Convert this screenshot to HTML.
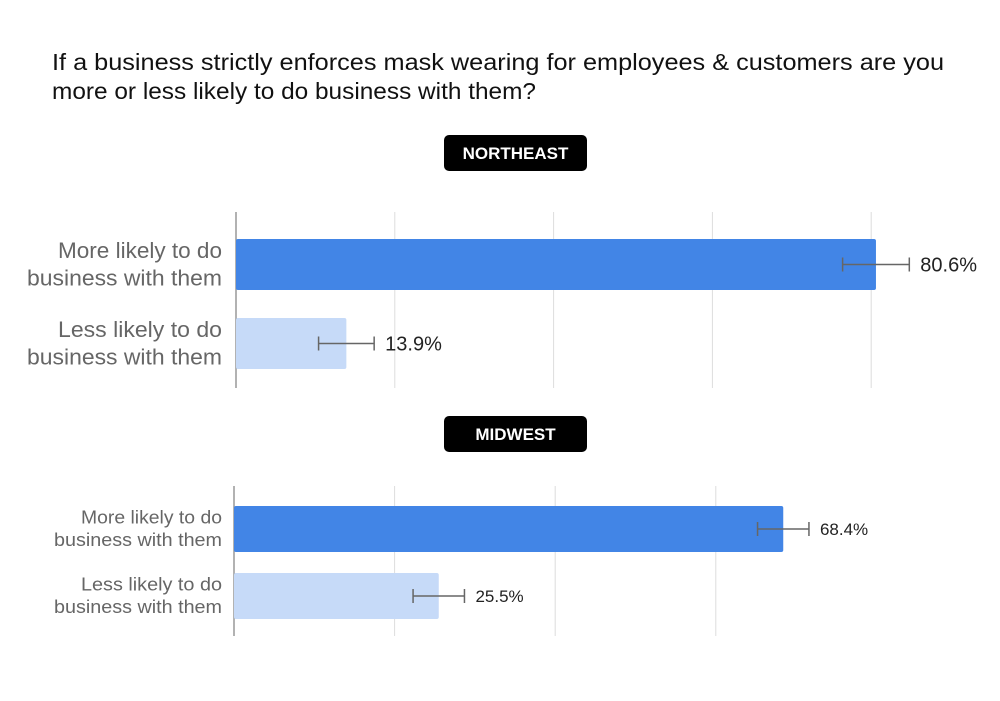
<!DOCTYPE html>
<html><head><meta charset="utf-8"><style>
body{margin:0;background:#fff;width:1000px;height:696px;overflow:hidden;font-family:"Liberation Sans",sans-serif}
</style></head><body>
<svg id="s" width="1000" height="696" xmlns="http://www.w3.org/2000/svg" font-family="Liberation Sans, sans-serif">
<text x="52" y="70" font-size="23" textLength="892" lengthAdjust="spacingAndGlyphs" fill="#111">If a business strictly enforces mask wearing for employees &amp; customers are you</text>
<text x="52" y="99" font-size="23" textLength="484" lengthAdjust="spacingAndGlyphs" fill="#111">more or less likely to do business with them?</text>
</svg>
<script>
const regions = ["NORTHEAST","MIDWEST"];
const categories = ["More likely to do|business with them","Less likely to do|business with them"];
const neValues = [80.6, 13.9];
const neErrors = [4.2, 3.5];
const mwValues = [68.4, 25.5];
const mwErrors = [3.2, 3.2];
const neTicks = [0,20,40,60,80];
const mwTicks = [0,20,40,60];
const svg = document.getElementById('s');
const NS = 'http://www.w3.org/2000/svg';
function mk(tag, attrs, parent){const e=document.createElementNS(NS,tag);for(const k in attrs)e.setAttribute(k,attrs[k]);(parent||svg).appendChild(e);return e;}
const panels = [
 {name:regions[0],values:neValues,errors:neErrors,ticks:neTicks,x0:236,scale:7.94,gy0:212,gy1:388,bars:[[239,51],[318,51]],badgeY:135,fs:22,lw:195,lfs:20,key:'northeast'},
 {name:regions[1],values:mwValues,errors:mwErrors,ticks:mwTicks,x0:234,scale:8.03,gy0:486,gy1:636,bars:[[506,46],[573,46]],badgeY:416,fs:18,lw:168,lfs:17,key:'midwest'}
];
const colors=['#4285e6','#c6daf8'];
panels.forEach(p=>{
 const xs=v=>p.x0+v*p.scale;
 const b=mk('rect',{x:444,y:p.badgeY,width:143,height:36,rx:5,fill:'#000'});
 
 
 const bt=mk('text',{x:515.5,y:p.badgeY+24,'text-anchor':'middle','font-size':17,'font-weight':'bold',fill:'#fff'});
 bt.textContent=p.name;
 
 
 p.ticks.forEach((t,i)=>{
  const l=mk('line',{x1:xs(t),x2:xs(t),y1:p.gy0,y2:p.gy1,stroke:i==0?'#999':'#ddd','stroke-width':i==0?1.5:1});
  
  
 });
 p.values.forEach((v,i)=>{
  const [by,bh]=p.bars[i];
  const r=mk('rect',{x:p.x0,y:by,width:xs(v)-p.x0,height:bh,rx:2,fill:colors[i]});
  
  
  const cy=by+bh/2, e=p.errors[i];
  const g=mk('g',{stroke:'#666','stroke-width':1.5});
  
  
  mk('line',{x1:xs(v-e),x2:xs(v+e),y1:cy,y2:cy},g);
  mk('line',{x1:xs(v-e),x2:xs(v-e),y1:cy-7,y2:cy+7},g);
  mk('line',{x1:xs(v+e),x2:xs(v+e),y1:cy-7,y2:cy+7},g);
  const vt=mk('text',{x:xs(v+e)+11,y:cy+p.lfs*0.36,'font-size':p.lfs,fill:'#222'});
  vt.textContent=v.toFixed(1)+'%';
  
  
  const lines=categories[i].split('|');
  lines.forEach((ln,j)=>{
   const t=mk('text',{x:222,y:cy+(j==0?-p.fs*0.3:p.fs*0.95),'text-anchor':'end','font-size':p.fs,fill:'#666'});
   t.textContent=ln;
   if(j==1){t.setAttribute('textLength',p.lw);t.setAttribute('lengthAdjust','spacingAndGlyphs');}
   else{t.setAttribute('textLength',Math.round(p.lw*0.84));t.setAttribute('lengthAdjust','spacingAndGlyphs');}
   
   
  });
 });
});
</script>
</body></html>
